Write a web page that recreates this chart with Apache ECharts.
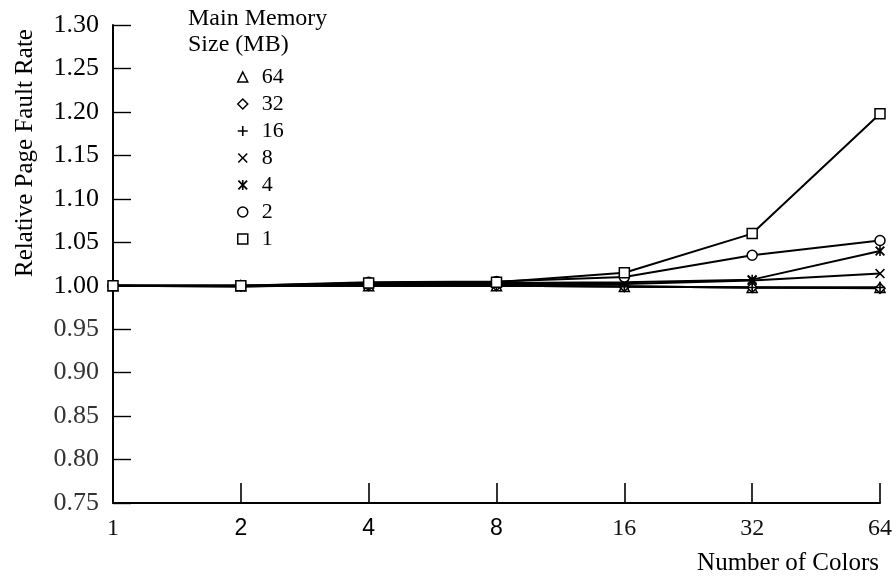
<!DOCTYPE html>
<html>
<head>
<meta charset="utf-8">
<script src="https://cdn.jsdelivr.net/npm/echarts@6/dist/echarts.min.js"></script>
<style>
  html, body { margin: 0; padding: 0; background: #fff; }
  #main { width: 896px; height: 579px; }
</style>
</head>
<body>
<div id="main"></div>
<script>
// number of colors (log2 spaced)
var colors = ['1', '2', '4', '8', '16', '32', '64'];
// relative page fault rate per main memory size (MB)
var mem64 = [1.000, 1.000, 1.000, 1.000, 0.999, 0.998, 0.998];
var mem32 = [1.000, 1.000, 1.000, 1.000, 0.999, 0.998, 0.997];
var mem16 = [1.000, 1.000, 1.000, 1.000, 0.999, 0.998, 0.998];
var mem8  = [1.000, 0.999, 1.001, 1.002, 1.002, 1.006, 1.014];
var mem4  = [1.000, 0.999, 1.002, 1.003, 1.004, 1.007, 1.040];
var mem2  = [1.000, 1.000, 1.004, 1.005, 1.010, 1.035, 1.052];
var mem1  = [1.000, 1.000, 1.003, 1.004, 1.015, 1.060, 1.198];
var yTicks = ['0.75', '0.80', '0.85', '0.90', '0.95', '1.00', '1.05', '1.10', '1.15', '1.20', '1.25', '1.30'];

var serif = '"Liberation Serif", "DejaVu Serif", serif';
var plusPath = 'path://M4.2,0H5.8V4.2H10V5.8H5.8V10H4.2V5.8H0V4.2H4.2Z';
var crossPath = 'path://M0,1.1L1.1,0L5,3.9L8.9,0L10,1.1L6.1,5L10,8.9L8.9,10L5,6.1L1.1,10L0,8.9L3.9,5Z';
var starPath = 'path://M0,1.3L1.3,0L4.2,2.9V0H5.8V2.9L8.7,0L10,1.3L6.3,5L10,8.7L8.7,10L5.8,7.1V10H4.2V7.1L1.3,10L0,8.7L3.7,5Z';

var hollow = { color: '#fff', borderColor: '#000', borderWidth: 1.5 };
var solid = { color: '#000', borderWidth: 0 };

function mk(name, data, symbol, size, style) {
  return {
    name: name,
    type: 'line',
    data: data,
    symbol: symbol,
    symbolSize: size,
    itemStyle: style,
    lineStyle: { color: '#000', width: 2 },
    emphasis: { disabled: true }
  };
}

var chart = echarts.init(document.getElementById('main'));
chart.setOption({
  animation: false,
  backgroundColor: '#fff',
  grid: { left: 113, right: 16, top: 25, bottom: 76 },
  legend: {
    orient: 'vertical',
    left: 232,
    top: 61,
    itemWidth: 10,
    itemHeight: 10,
    itemGap: 5,
    selectedMode: false,
    textStyle: { fontFamily: serif, fontSize: 22, color: '#000', padding: [0, 0, 0, 9] },
    data: [
      { name: '64', icon: 'triangle', itemStyle: hollow },
      { name: '32', icon: 'diamond', itemStyle: hollow },
      { name: '16', icon: plusPath, itemStyle: solid },
      { name: '8', icon: crossPath, itemStyle: solid },
      { name: '4', icon: starPath, itemStyle: solid },
      { name: '2', icon: 'circle', itemStyle: hollow },
      { name: '1', icon: 'rect', itemStyle: hollow }
    ]
  },
  xAxis: {
    type: 'category',
    data: colors,
    boundaryGap: false,
    axisLine: { lineStyle: { color: '#000', width: 2 } },
    axisTick: { inside: true, length: 20, lineStyle: { color: '#000', width: 1.6 } },
    axisLabel: {
      margin: 14,
      formatter: function (v) {
        return (v === '2' || v === '4' || v === '8') ? '{s|' + v + '}' : '{t|' + v + '}';
      },
      rich: {
        s: { fontFamily: '"Liberation Sans", Arial, sans-serif', fontSize: 23, color: '#000' },
        t: { fontFamily: serif, fontSize: 24, color: '#111' }
      }
    },
    splitLine: { show: false }
  },
  yAxis: {
    type: 'value',
    min: 0.75,
    max: 1.30,
    interval: 0.05,
    axisLine: { show: true, lineStyle: { color: '#000', width: 2 } },
    axisTick: { show: true, inside: true, length: 18, lineStyle: { color: '#000', width: 1.4 } },
    axisLabel: {
      margin: 14,
      formatter: function (v) {
        var i = Math.round((v - 0.75) / 0.05);
        var s = yTicks[i];
        return v >= 0.999 ? '{a|' + s + '}' : '{b|' + s + '}';
      },
      rich: {
        a: { fontFamily: serif, fontSize: 26, color: '#000' },
        b: { fontFamily: serif, fontSize: 26, color: '#333' }
      }
    },
    splitLine: { show: false }
  },
  graphic: [
    {
      type: 'text', x: 25, y: 153, rotation: Math.PI / 2,
      style: { text: 'Relative Page Fault Rate', font: '25px ' + serif, fill: '#000', align: 'center', verticalAlign: 'middle' }
    },
    {
      type: 'text', x: 188, y: 19,
      style: { text: 'Main Memory', font: '24px ' + serif, fill: '#000', align: 'left', verticalAlign: 'middle' }
    },
    {
      type: 'text', x: 188, y: 45,
      style: { text: 'Size (MB)', font: '24px ' + serif, fill: '#000', align: 'left', verticalAlign: 'middle' }
    },
    {
      type: 'text', x: 879, y: 563,
      style: { text: 'Number of Colors', font: '25px ' + serif, fill: '#000', align: 'right', verticalAlign: 'middle' }
    }
  ],
  series: [
    mk('64', mem64, 'triangle', 10, hollow),
    mk('32', mem32, 'diamond', 10, hollow),
    mk('16', mem16, plusPath, 10, solid),
    mk('8', mem8, crossPath, 10, solid),
    mk('4', mem4, starPath, 10, solid),
    mk('2', mem2, 'circle', 10, hollow),
    mk('1', mem1, 'rect', 10, hollow)
  ]
});
</script>
</body>
</html>
